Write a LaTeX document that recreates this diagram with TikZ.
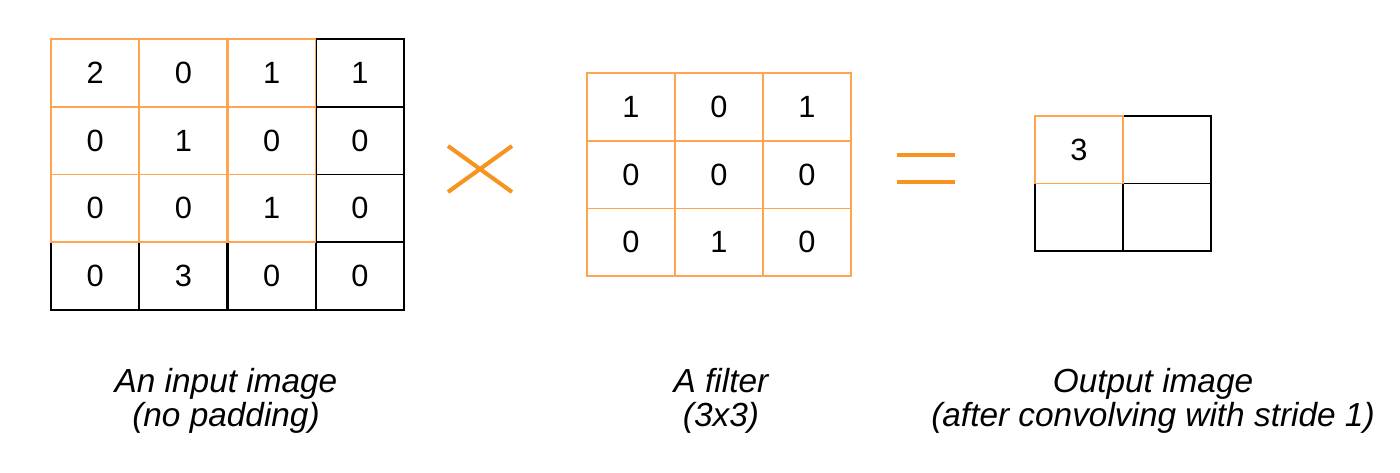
\documentclass[tikz,border=0pt]{standalone}
\usepackage{fontspec}
\setmainfont{Liberation Sans}
\newfontfamily\handfont{Liberation Sans}
\usetikzlibrary{positioning}
\definecolor{gridorange}{HTML}{FFA54F}
\definecolor{signorange}{HTML}{F7931E}
\tikzstyle{cell} = [rectangle, draw=black, line width=1pt,
    minimum width=1.76cm, minimum height=1.355cm, inner sep=0pt,
    font=\fontsize{17.5pt}{19pt}\selectfont]
\tikzstyle{hot} = [draw=gridorange]
\tikzstyle{opsign} = [draw=signorange, line width=2.3pt]
\tikzstyle{capt} = [anchor=north, align=center, inner sep=0pt,
    font=\handfont\itshape\fontsize{19pt}{19.5pt}\selectfont]

\begin{document}
\begin{tikzpicture}[x=0.02cm, y=-0.02cm]
        \useasboundingbox (0,0) rectangle (1400,473);

        % 1. Input image, black cells first (last row and last column)
        \foreach \r/\c/\v in {1/4/1, 2/4/0, 3/4/0, 4/1/0, 4/2/3, 4/3/0, 4/4/0}
            \node [cell] (in-\r-\c) at ({51+88.25*(\c-0.5)}, {39+67.75*(\r-0.5)}) {\v};
        % window under the filter, drawn on top
        \foreach \r/\c/\v in {1/1/2, 1/2/0, 1/3/1, 2/1/0, 2/2/1, 2/3/0, 3/1/0, 3/2/0, 3/3/1}
            \node [cell, hot] (in-\r-\c) at ({51+88.25*(\c-0.5)}, {39+67.75*(\r-0.5)}) {\v};

        % 2. Filter
        \foreach \r/\c/\v in {1/1/1, 1/2/0, 1/3/1, 2/1/0, 2/2/0, 2/3/0, 3/1/0, 3/2/1, 3/3/0}
            \node [cell, hot] (flt-\r-\c) at ({587+88*(\c-0.5)}, {73+67.7*(\r-0.5)}) {\v};

        % 3. Output image
        \foreach \r/\c in {1/2, 2/1, 2/2}
            \node [cell] (out-\r-\c) at ({1035+88*(\c-0.5)}, {116+67.5*(\r-0.5)}) {};
        \node [cell, hot] (out-1-1) at ({1035+44}, {116+33.75}) {3};

        % Operators
        \draw [opsign] (448,146) -- (512,192) (448,192) -- (512,146);
        \draw [opsign] (897,155) -- (955,155) (897,182) -- (955,182);

        % Captions
        \node [capt] (capt-in) at (226,368) {An input image\\(no padding)};
        \node [capt] (capt-flt) at (721,368) {A filter\\(3x3)};
        \node [capt] (capt-out) at (1153,368) {Output image\\(after convolving with stride 1)};

      \end{tikzpicture}
\end{document}
